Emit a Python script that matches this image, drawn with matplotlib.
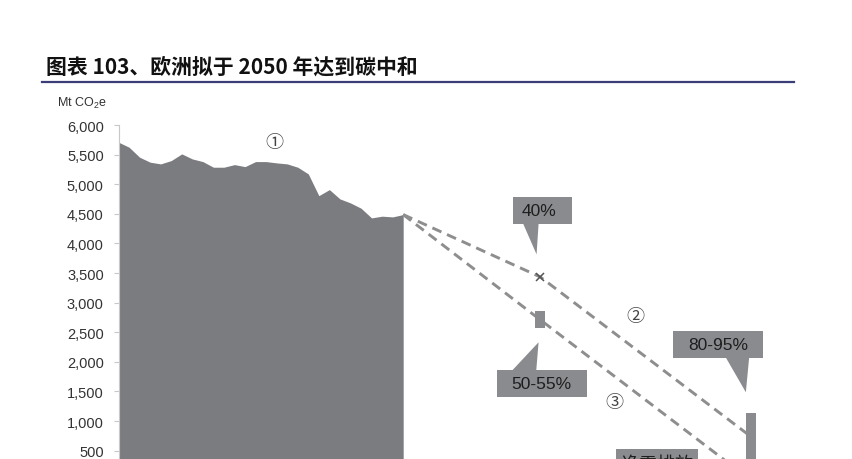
import matplotlib
matplotlib.use('Agg')
import matplotlib.pyplot as plt
from matplotlib.lines import Line2D
from matplotlib.patches import Polygon
from matplotlib.transforms import IdentityTransform
from matplotlib.ticker import FuncFormatter

plt.rcParams['font.family'] = ['Liberation Sans', 'Noto Sans CJK SC', 'DejaVu Sans']
plt.rcParams['mathtext.fontset'] = 'custom'
plt.rcParams['mathtext.rm'] = 'Liberation Sans'
plt.rcParams['mathtext.it'] = 'Liberation Sans:italic'

# historical EU emissions, Mt CO2e
years = list(range(1990, 2018))
emissions = [5710, 5625, 5456, 5372, 5343, 5399, 5512, 5427, 5382, 5287,
             5287, 5331, 5297, 5382, 5382, 5360, 5343, 5287, 5174, 4807,
             4909, 4752, 4684, 4595, 4431, 4460, 4448, 4487]

# pathways
path2_years = [2017, 2030, 2050]
path2_values = [4487, 3434, 735]
path3_years = [2017, 2030, 2050]
path3_values = [4487, 2710, 0]

# target ranges (low, high)
target_2030 = (2574, 2860)   # -50~55%
target_2050 = (286, 1144)    # -80~95%

yticks = list(range(500, 6001, 500))

AREA = '#7b7c80'
BOX = '#8a8b8f'
DASH = '#8e8e8e'

fig = plt.figure(figsize=(8.52, 4.6), dpi=100)
W, H = 852, 460

# axes goes below the bottom edge of the picture (chart is cropped)
ax = fig.add_axes([118.5 / W, 1 - 481.3 / H, 717 / W, 355.3 / H])
ax.set_xlim(1990, 2058)
ax.set_ylim(0, 6000)

ax.fill_between(years, emissions, 0, color=AREA, lw=0, zorder=1)

ax.plot(path2_years, path2_values, color=DASH, lw=2.1, ls=(0, (3.4, 2.1)), zorder=2)
ax.plot(path3_years, path3_values, color=DASH, lw=2.1, ls=(0, (3.4, 2.1)), zorder=2)
ax.plot(path2_years[1], path2_values[1], marker='x', ms=6, mew=1.1, color='#555555', zorder=4)

ax.bar(2030, target_2030[1] - target_2030[0], bottom=target_2030[0], width=0.95,
       color=BOX, zorder=3)
ax.bar(2050, target_2050[1] - target_2050[0], bottom=target_2050[0], width=0.95,
       color=BOX, zorder=3)

ax.text(2004.8, 5700, '①', fontsize=13, ha='center', va='center', color='#444444')
ax.text(2039.0, 2767, '②', fontsize=13, ha='center', va='center', color='#444444')
ax.text(2037.0, 1306, '③', fontsize=13, ha='center', va='center', color='#444444')

ax.set_yticks(yticks)
ax.yaxis.set_major_formatter(FuncFormatter(lambda v, p: f'{v:,.0f}'))
ax.set_xticks([])
for s in ['top', 'right', 'bottom']:
    ax.spines[s].set_visible(False)
ax.spines['left'].set_color('#c8c8c8')
ax.tick_params(axis='y', direction='out', length=3.6, color='#c8c8c8',
               labelsize=10.5, labelcolor='#333333', pad=7)


def callout(anchor, text, box, base=None, tip=None, textpos=(0, 0), fs=12.5):
    # box / base / tip / textpos are pixel offsets from the anchor (y up)
    px, py = ax.transData.transform(anchor)
    tr = IdentityTransform()
    x0, x1, y0, y1 = box
    rect = [(px + x0, py + y0), (px + x1, py + y0), (px + x1, py + y1), (px + x0, py + y1)]
    fig.patches.append(Polygon(rect, closed=True, transform=tr, color=BOX,
                               lw=0, zorder=5, clip_on=False))
    if base is not None:
        (bx0, bx1, by) = base
        tri = [(px + bx0, py + by), (px + bx1, py + by), (px + tip[0], py + tip[1])]
        fig.patches.append(Polygon(tri, closed=True, transform=tr, color=BOX,
                                   lw=0, zorder=5, clip_on=False))
    fig.text((px + textpos[0]) / W, (py + textpos[1]) / H, text, fontsize=fs,
             ha='center', va='center', color='#1e1e1e', zorder=6)


callout((path2_years[1], path2_values[1]), '40%', (-27, 32, 52.6, 80),
        base=(-17, -1.7, 53), tip=(-3.7, 22.6), textpos=(-1.5, 66))
callout((2030, target_2030[0]), '50-55%', (-43, 47, -42.1, -68.8),
        base=(-28, -4, -42.5), tip=(-1.7, -14.4), textpos=(0.7, -55.5))
callout((2050, target_2050[1]), '80-95%', (-78, 12.3, 54.6, 81.9),
        base=(-25.3, -2, 55), tip=(-5.3, 20.3), textpos=(-32.7, 68))
callout((2050, 0), '净零排放', (-135.3, -52.7, 3.3, 31.3), textpos=(-94, 15), fs=13)

fig.text(57 / W, 1 - 103 / H, 'Mt CO$_2$e', fontsize=9, ha='left', va='center',
         color='#333333')

fig.text(46 / W, 1 - 67 / H, '图表 103、欧洲拟于 2050 年达到碳中和', fontsize=15,
         fontweight='bold', ha='left', va='center', color='#111111',
         family=['Noto Sans CJK SC', 'DejaVu Sans'])
fig.add_artist(Line2D([42 / W, 794 / W], [1 - 82.7 / H] * 2, color='#3a3d78', lw=1.6))

plt.savefig('out.png', dpi=100)
